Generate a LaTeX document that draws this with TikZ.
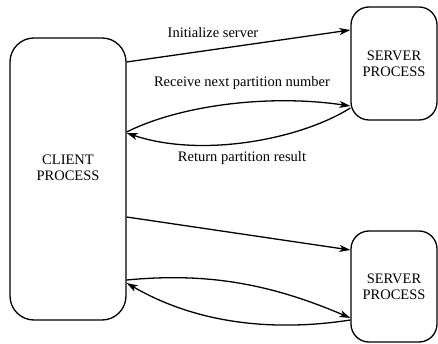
\documentclass[tikz,border=0pt]{standalone}
\usepackage{fontspec}
\setmainfont{Liberation Serif}
\usetikzlibrary{arrows.meta}
\begin{document}
\begin{tikzpicture}[x=1pt,y=1pt,
  txt/.style={font=\fontsize{14.5}{16}\selectfont, inner sep=0pt, align=center},
  proc/.style={draw, line width=1.3pt, txt},
  conn/.style={line width=1.3pt, -{Stealth[length=11pt,width=7pt,inset=3pt]}}]
\useasboundingbox (0,0) rectangle (438,-344);
\node[proc, rounded corners=24pt, minimum width=116pt, minimum height=282pt] (client) at (68,-179) {};
\node[txt] (clienttext) at ([yshift=11.5pt]client.center) {CLIENT\\PROCESS};
\node[proc, rounded corners=18pt, minimum width=86pt, minimum height=113pt] (server1) at (394,-63.5) {SERVER\\PROCESS};
\node[proc, rounded corners=18pt, minimum width=86pt, minimum height=111pt] (server2) at (394,-286.5) {SERVER\\PROCESS};
% top group
\draw[conn] ([yshift=117pt]client.east) -- ([yshift=33.5pt]server1.west);
\draw[conn] ([yshift=47pt]client.east) .. controls +(54,27) and +(-81,12) .. ([yshift=-42.5pt]server1.west);
\draw[conn] ([yshift=-44.5pt]server1.west) .. controls +(-51,-32) and +(74,-25) .. ([yshift=46pt]client.east);
% bottom group
\draw[conn] ([yshift=-38pt]client.east) -- ([yshift=36.5pt]server2.west);
\draw[conn] ([yshift=-101pt]client.east) .. controls +(74,7) and +(-86,37) .. ([yshift=-31.5pt]server2.west);
\draw[conn] ([yshift=-33.5pt]server2.west) .. controls +(-71,-11) and +(74,-43) .. ([yshift=-104pt]client.east);
% labels
\node[txt] (l1) at (213,-33) {Initialize server};
\node[txt] (l2) at (242,-83) {Receive next partition number};
\node[txt] (l3) at (242,-158) {Return partition result};
\end{tikzpicture}
\end{document}
